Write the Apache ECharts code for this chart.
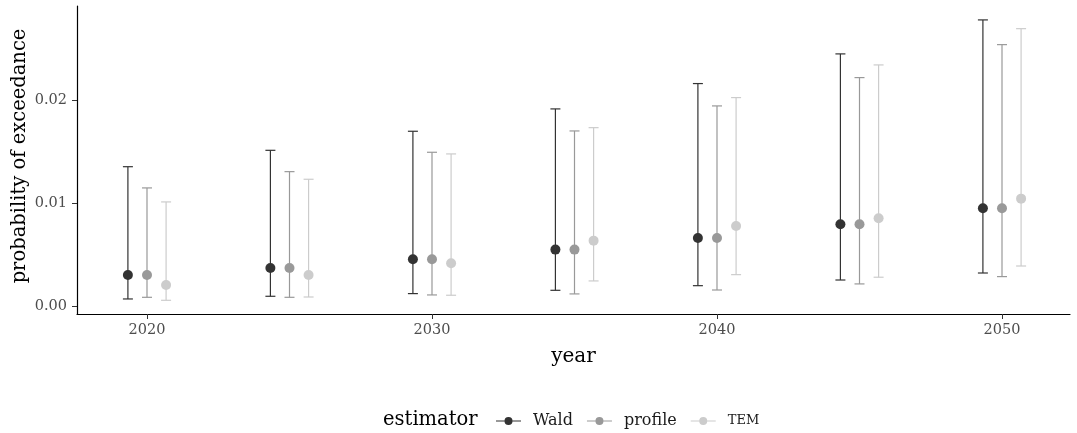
<!DOCTYPE html>
<html>
<head>
<meta charset="utf-8">
<script src="https://cdn.jsdelivr.net/npm/echarts@6/dist/echarts.min.js"></script>
<style>html,body{margin:0;padding:0;background:#fff}#c{width:1077px;height:433px}</style>
</head>
<body>
<div id="c"></div>
<script>
const years = [2020, 2025, 2030, 2035, 2040, 2045, 2050];
const estimators = ['Wald', 'profile', 'TEM'];
const xTicks = [2020, 2030, 2040, 2050];
const yTicks = [0, 0.01, 0.02];

const waldEst = [0.00301, 0.00369, 0.00453, 0.00547, 0.00660, 0.00793, 0.00948];
const waldLo  = [0.00068, 0.00094, 0.00120, 0.00152, 0.00197, 0.00252, 0.00320];
const waldHi  = [0.01352, 0.01511, 0.01696, 0.01913, 0.02159, 0.02447, 0.02777];

const profileEst = [0.00301, 0.00369, 0.00453, 0.00547, 0.00660, 0.00793, 0.00948];
const profileLo  = [0.00084, 0.00084, 0.00107, 0.00117, 0.00155, 0.00214, 0.00285];
const profileHi  = [0.01146, 0.01304, 0.01492, 0.01699, 0.01942, 0.02217, 0.02537];

const temEst = [0.00204, 0.00301, 0.00414, 0.00634, 0.00777, 0.00851, 0.01042];
const temLo  = [0.00055, 0.00087, 0.00104, 0.00243, 0.00304, 0.00279, 0.00388];
const temHi  = [0.01010, 0.01230, 0.01476, 0.01731, 0.02023, 0.02340, 0.02692];

const colors = ['#333333', '#999999', '#cccccc'];
const dodge = [-0.67, 0, 0.67];
const groups = [
  [waldEst, waldLo, waldHi],
  [profileEst, profileLo, profileHi],
  [temEst, temLo, temHi]
];
const FONT = 'DejaVu Serif';

const series = [];
estimators.forEach((name, k) => {
  const [est, lo, hi] = groups[k];
  series.push({
    name: name,
    type: 'custom',
    itemStyle: { color: colors[k] },
    data: years.map((y, i) => [y + dodge[k], lo[i], hi[i]]),
    encode: { x: 0, y: [1, 2] },
    renderItem: function (params, api) {
      const x = api.value(0);
      const p1 = api.coord([x, api.value(1)]);
      const p2 = api.coord([x, api.value(2)]);
      const hw = 5;
      const st = { stroke: colors[k], lineWidth: 1.2, fill: null };
      return {
        type: 'group',
        children: [
          { type: 'line', shape: { x1: p1[0], y1: p1[1], x2: p2[0], y2: p2[1] }, style: st },
          { type: 'line', shape: { x1: p1[0] - hw, y1: p1[1], x2: p1[0] + hw, y2: p1[1] }, style: st },
          { type: 'line', shape: { x1: p2[0] - hw, y1: p2[1], x2: p2[0] + hw, y2: p2[1] }, style: st }
        ]
      };
    },
    z: 2
  });
  series.push({
    name: name,
    type: 'scatter',
    data: years.map((y, i) => [y + dodge[k], est[i]]),
    symbol: 'circle',
    symbolSize: 10,
    itemStyle: { color: colors[k], opacity: 1 },
    z: 3
  });
});

const icon = 'path://M0,3.4 L25,3.4 L25,4.6 L0,4.6 Z M12.5,0 A4,4 0 1,1 12.5,8 A4,4 0 1,1 12.5,0 Z';

const chart = echarts.init(document.getElementById('c'), null, { renderer: 'canvas' });
chart.setOption({
  animation: false,
  backgroundColor: '#ffffff',
  grid: { left: 77, right: 7, top: 6, bottom: 119, containLabel: false, outerBoundsMode: 'none' },
  xAxis: {
    type: 'value',
    min: 2017.544, max: 2052.386,
    name: 'year', nameLocation: 'middle', nameGap: 33,
    nameTextStyle: { fontFamily: FONT, fontSize: 20, color: '#000' },
    axisLine: { onZero: false, lineStyle: { color: '#000', width: 1.2 } },
    axisTick: { length: 5, lineStyle: { color: '#333' }, customValues: xTicks },
    axisLabel: { customValues: xTicks, fontFamily: FONT, fontSize: 14.5, color: '#4d4d4d', margin: 9, formatter: v => String(v) },
    splitLine: { show: false }
  },
  yAxis: {
    type: 'value',
    min: -0.00078, max: 0.02912,
    axisLine: { show: true, onZero: false, lineStyle: { color: '#000', width: 1.2 } },
    axisTick: { show: true, length: 5, lineStyle: { color: '#333' }, customValues: yTicks },
    axisLabel: { customValues: yTicks, fontFamily: FONT, fontSize: 14.5, color: '#4d4d4d', margin: 10, formatter: v => v.toFixed(2) },
    splitLine: { show: false }
  },
  legend: {
    left: 491, top: 408,
    itemWidth: 25, itemHeight: 8, itemGap: 14,
    data: estimators.map(n => ({ name: n, icon: icon })),
    textStyle: { fontFamily: FONT, fontSize: 16, color: '#1a1a1a', padding: [0, 0, 0, 7],
      rich: { sc: { fontFamily: FONT, fontSize: 13, color: '#1a1a1a' } } },
    formatter: n => n === 'TEM' ? '{sc|' + n + '}' : n,
    selectedMode: false
  },
  graphic: [{
    type: 'text', left: 383, top: 410,
    style: { text: 'estimator', font: '19.5px "DejaVu Serif"', fill: '#000' }
  }, {
    type: 'text', x: 20, y: 156, rotation: Math.PI / 2,
    style: { text: 'probability of exceedance', font: '19.5px "DejaVu Serif"', fill: '#000',
      align: 'center', verticalAlign: 'middle' }
  }],
  series: series
});
</script>
</body>
</html>
